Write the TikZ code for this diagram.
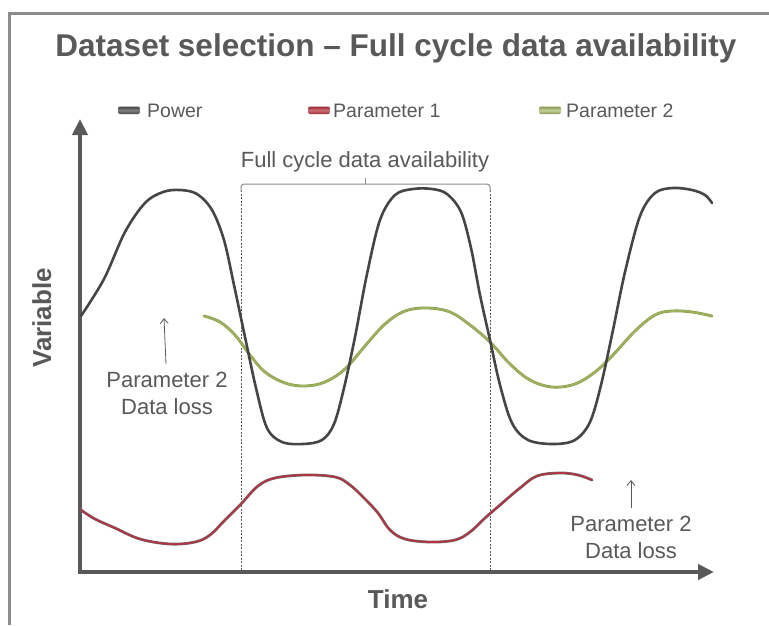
\documentclass[tikz,border=0pt]{standalone}
\usepackage{fontspec}
\setmainfont{Liberation Sans}
\usetikzlibrary{arrows.meta}
\definecolor{txtgray}{HTML}{595959}
\definecolor{framegray}{HTML}{8C8C8C}
\definecolor{powergray}{HTML}{454545}
\definecolor{paramred}{HTML}{B8313F}
\definecolor{paramgreen}{HTML}{9DB25A}
\definecolor{edgegray}{HTML}{6A6A6A}
\newcommand{\fs}[1]{\fontsize{#1}{#1}\selectfont}
\tikzset{
  lbl/.style={text=txtgray, inner sep=0pt, anchor=base, font=\fs{22}},
  legtxt/.style={text=txtgray, inner sep=0pt, anchor=base west, font=\fs{19.5}},
  axis/.style={draw=txtgray, line width=4.5pt, -{Triangle[length=16pt,width=15pt]}},
  pointer/.style={draw=txtgray, line width=0.8pt, -{Straight Barb[length=5pt,width=8pt]}},
  powercurve/.style={draw=powergray, line width=2.6pt, line cap=round, line join=round},
  swatch/.style={line width=0pt, rounded corners=2pt},
}
\begin{document}
\begin{tikzpicture}[x=1pt,y=-1pt]
\useasboundingbox (0,0) rectangle (769,625);
\fill[white] (0,0) rectangle (769,625);

% outer frame (top and left edges)
\draw[framegray, line width=3pt] (9,625) -- (9,13) -- (769,13);

% title
\node[lbl, font=\bfseries\fs{31.5}] (title) at (396,56) {Dataset selection -- Full cycle data availability};

% legend
\shade[swatch, top color=powergray, bottom color=powergray, middle color=gray] (118,106.5) rectangle (140,114);
\node[legtxt] (legpower) at (147,117) {Power};
\shade[swatch, top color=paramred!85!black, bottom color=paramred!85!black, middle color=paramred!70!white] (308,106.5) rectangle (330,114);
\node[legtxt] (legred) at (333,117) {Parameter 1};
\shade[swatch, top color=paramgreen!85!black, bottom color=paramgreen!85!black, middle color=paramgreen!60!white] (539,106.5) rectangle (561,114);
\node[legtxt] (leggreen) at (566,117) {Parameter 2};

% axes
\coordinate (origin) at (80,574);
\coordinate (ytip) at (80,119);
\coordinate (xstart) at (78,572);
\coordinate (xtip) at (714,572);
\draw[axis] (origin) -- (ytip);
\draw[axis] (xstart) -- (xtip);
\node[lbl, font=\bfseries\fs{26}, rotate=90] (ylabel) at (51,318) {Variable};
\node[lbl, font=\bfseries\fs{26}] (xlabel) at (398,608) {Time};

% full-cycle window
\coordinate (winL) at (241,572);
\coordinate (winR) at (490,572);
\draw[txtgray, line width=0.6pt, dash pattern=on 2pt off 1.5pt] (241,190) -- (winL);
\draw[txtgray, line width=0.6pt, dash pattern=on 2pt off 1.5pt] (490,190) -- (winR);
\draw[framegray, line width=1pt, rounded corners=3pt] (241,192) -- (241,184) -- (490,184) -- (490,192);
\draw[framegray, line width=1pt] (365.5,184) -- (365.5,178);
\node[lbl] (window) at (365,167) {Full cycle data availability};

% Parameter 1
\draw[edgegray, line width=2.8pt, line cap=round, line join=round] plot[smooth, tension=0.6] coordinates {
 (81,510) (95,519) (115,528) (140,539) (170,544) (195,542) (210,535) (225,520) (241,504)
 (258,486) (275,478) (305,475) (335,477) (350,485) (365,499) (378,513) (390,530) (405,539)
 (430,542) (455,540) (470,532) (485,518) (500,505) (520,488) (537,476) (560,473) (578,475) (592,480)};
\draw[paramred, line width=1.6pt, line cap=round, line join=round] plot[smooth, tension=0.6] coordinates {
 (81,510) (95,519) (115,528) (140,539) (170,544) (195,542) (210,535) (225,520) (241,504)
 (258,486) (275,478) (305,475) (335,477) (350,485) (365,499) (378,513) (390,530) (405,539)
 (430,542) (455,540) (470,532) (485,518) (500,505) (520,488) (537,476) (560,473) (578,475) (592,480)};

% Parameter 2
\draw[paramgreen!85!black, line width=2.8pt, line cap=round] plot[smooth, tension=0.6] coordinates {
 (204,316) (220,322) (235,335) (250,355) (265,372) (285,383) (305,386) (325,382) (345,369)
 (365,346) (385,324) (405,311) (427,308) (450,312) (470,325) (490,342) (510,364) (530,380)
 (552,387) (575,384) (595,372) (613,355) (635,331) (655,315) (672,311) (692,312) (712,316)};
\draw[paramgreen, line width=1.8pt, line cap=round] plot[smooth, tension=0.6] coordinates {
 (204,316) (220,322) (235,335) (250,355) (265,372) (285,383) (305,386) (325,382) (345,369)
 (365,346) (385,324) (405,311) (427,308) (450,312) (470,325) (490,342) (510,364) (530,380)
 (552,387) (575,384) (595,372) (613,355) (635,331) (655,315) (672,311) (692,312) (712,316)};

% Power
\draw[powercurve] plot[smooth, tension=0.55] coordinates {
 (81,316) (104,279) (125,232) (145,203) (163,192) (180,190) (197,194) (212,210) (224,240)
 (234,285) (245,337) (256,388) (267,428) (282,442) (303,444) (322,440) (334,424) (344,388)
 (355,337) (367,274) (380,220) (395,195) (413,189) (432,189) (447,194) (461,212) (471,248)
 (480,295) (490,340) (500,385) (512,423) (528,440) (553,444) (575,440) (590,422) (601,385)
 (613,330) (625,272) (640,216) (655,193) (673,188) (692,190) (705,195) (712,203)};

% data-loss annotations
\node[lbl, align=center, anchor=north] (lossA) at (167,372) {Parameter 2\\[4.5pt]Data loss};
\coordinate (lossAtip) at (164,318);
\draw[pointer] (166,364) -- (lossAtip);
\node[lbl, align=center, anchor=north] (lossB) at (631,516) {Parameter 2\\[4.5pt]Data loss};
\coordinate (lossBtip) at (631,480);
\draw[pointer] (631,508) -- (lossBtip);
\end{tikzpicture}
\end{document}
